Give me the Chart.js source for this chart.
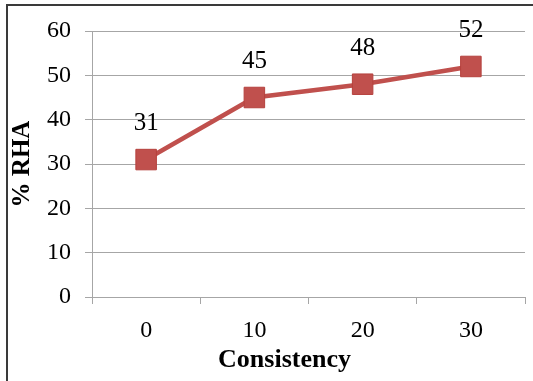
<!DOCTYPE html>
<html lang="en">
<head>
  <meta charset="UTF-8">
  <title>% RHA vs Consistency</title>
  <script src="https://cdn.jsdelivr.net/npm/chart.js"></script>
  <style>
    html, body { margin: 0; padding: 0; background: #fff; overflow: hidden; }
    #wrap { position: relative; width: 533px; height: 381px; }
    #frame {
      position: absolute; left: 6px; top: 4px; width: 600px; height: 500px;
      border-left: 2px solid #3a3a3a; border-top: 2px solid #3a3a3a;
    }
    canvas { position: absolute; left: 0; top: 0; }
  </style>
</head>
<body>
  <div id="wrap">
    <div id="frame"></div>
    <canvas id="myChart" width="533" height="381"></canvas>
  </div>
  <script>
    // chart data
    const categories = ['0', '10', '20', '30'];
    const rhaValues = [31, 45, 48, 52];
    const yTicks = [0, 10, 20, 30, 40, 50, 60];
    const xTitle = 'Consistency';
    const yTitle = '% RHA';

    const serif = "'Liberation Serif', 'Times New Roman', serif";
    const gridGray = '#a6a6a6';

    // values above the points, and the x title (sits a bit left of centre in the original)
    const valueLabels = {
      id: 'valueLabels',
      afterDatasetsDraw(chart) {
        const ctx = chart.ctx;
        const meta = chart.getDatasetMeta(0);
        const xs = chart.scales.x;
        ctx.save();
        ctx.font = '25px ' + serif;
        ctx.fillStyle = '#000';
        ctx.textAlign = 'center';
        ctx.textBaseline = 'middle';
        meta.data.forEach((pt, i) => {
          ctx.fillText(String(rhaValues[i]), pt.x, pt.y - 36);
        });
        ctx.font = 'bold 26px ' + serif;
        ctx.textBaseline = 'alphabetic';
        const mid = (xs.getPixelForValue(1) + xs.getPixelForValue(2)) / 2;
        ctx.fillText(xTitle, mid - 24, xs.bottom - 9);
        ctx.restore();
      }
    };

    const ctx = document.getElementById('myChart').getContext('2d');
    const myChart = new Chart(ctx, {
      type: 'line',
      data: {
        labels: categories,
        datasets: [{
          label: yTitle,
          data: rhaValues,
          borderColor: '#c0504d',
          borderWidth: 4.5,
          backgroundColor: '#c0504d',
          pointStyle: 'rect',
          pointRadius: 14.5,
          pointHoverRadius: 14.5,
          pointBackgroundColor: '#c0504d',
          pointBorderColor: '#b5403d',
          pointBorderWidth: 1,
          tension: 0
        }]
      },
      options: {
        responsive: false,
        animation: false,
        events: [],
        layout: { autoPadding: false, padding: { left: 6, top: 31, right: 8, bottom: 5 } },
        plugins: {
          legend: { display: false },
          tooltip: { enabled: false }
        },
        scales: {
          x: {
            offset: true,
            grid: {
              offset: true,
              drawOnChartArea: false,
              drawTicks: true,
              tickLength: 7,
              color: gridGray
            },
            border: { color: gridGray, width: 1 },
            ticks: {
              color: '#000',
              padding: 12,
              font: { family: serif, size: 24 }
            },
            title: { display: false },
            afterFit(scale) { scale.height = 79; }
          },
          y: {
            min: 0,
            max: 60,
            afterBuildTicks(scale) { scale.ticks = yTicks.map(v => ({ value: v })); },
            grid: {
              color: gridGray,
              lineWidth: 1,
              tickLength: 7,
              drawTicks: true
            },
            border: { color: gridGray, width: 1 },
            ticks: {
              color: '#000',
              padding: 14,
              font: { family: serif, size: 24 }
            },
            title: {
              display: true,
              text: yTitle,
              color: '#000',
              padding: { top: 2, bottom: 0 },
              font: { family: serif, size: 25, weight: 'bold' }
            },
            afterFit(scale) { scale.width = 86; }
          }
        }
      },
      plugins: [valueLabels]
    });
  </script>
</body>
</html>
